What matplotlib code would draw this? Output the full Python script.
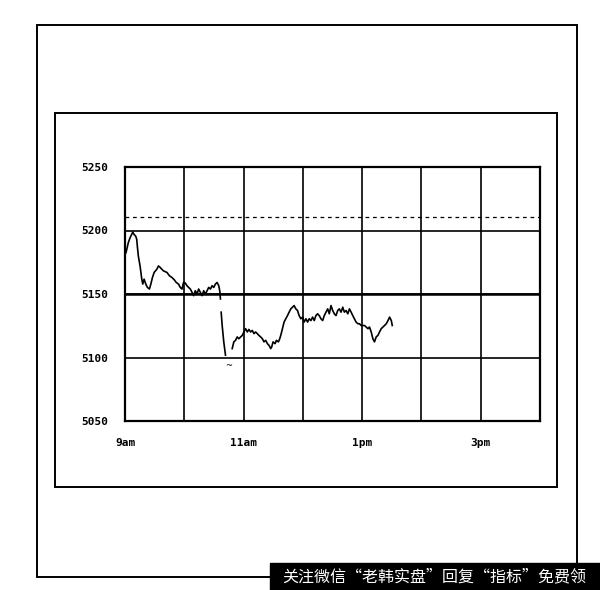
import matplotlib
matplotlib.use("Agg")
import matplotlib.pyplot as plt
from matplotlib.patches import Rectangle

# time in hours (9 = 9am), price
t_am = [9.017, 9.056, 9.085, 9.131, 9.153, 9.181, 9.198, 9.208, 9.225, 9.254,
        9.283, 9.300, 9.322, 9.351, 9.378, 9.412, 9.436, 9.463, 9.492, 9.537,
        9.564, 9.593, 9.622, 9.649, 9.707, 9.751, 9.792, 9.831, 9.864, 9.903,
        9.932, 9.961, 9.988, 10.017, 10.046, 10.073, 10.102, 10.131, 10.158, 10.186,
        10.215, 10.242, 10.271, 10.300, 10.327, 10.356, 10.385, 10.412, 10.441, 10.469,
        10.497, 10.525, 10.554, 10.581, 10.598, 10.610]
p_am = [5182.6, 5190.4, 5194.3, 5198.7, 5196.9, 5195.5, 5193.0, 5187.7, 5179.9, 5172.1,
        5161.7, 5157.8, 5161.7, 5157.8, 5155.2, 5153.9, 5157.8, 5163.0, 5167.0, 5169.5,
        5172.1, 5170.9, 5169.5, 5168.2, 5167.0, 5164.3, 5163.0, 5161.2, 5159.1, 5157.8,
        5155.2, 5153.9, 5159.1, 5158.6, 5156.5, 5155.2, 5153.9, 5151.3, 5148.7, 5152.6,
        5150.0, 5153.9, 5151.3, 5148.7, 5152.6, 5150.0, 5152.6, 5155.2, 5153.9, 5156.5,
        5155.2, 5157.8, 5159.1, 5156.5, 5152.6, 5146.1]

t_drop = [10.622, 10.639, 10.666, 10.695]
p_drop = [5135.7, 5125.2, 5112.3, 5101.8]

t_pm = [10.808, 10.836, 10.864, 10.893, 10.920, 10.978, 11.005, 11.034, 11.063, 11.090,
        11.119, 11.147, 11.175, 11.203, 11.232, 11.259, 11.288, 11.317, 11.344, 11.373,
        11.402, 11.429, 11.458, 11.475, 11.497, 11.531, 11.554, 11.588, 11.610, 11.627,
        11.656, 11.683, 11.712, 11.741, 11.768, 11.797, 11.825, 11.853, 11.881, 11.910,
        11.937, 11.966, 11.995, 12.022, 12.051, 12.080, 12.107, 12.136, 12.164, 12.192,
        12.220, 12.249, 12.276, 12.305, 12.334, 12.361, 12.390, 12.419, 12.446, 12.475,
        12.503, 12.531, 12.559, 12.588, 12.615, 12.644, 12.673, 12.700, 12.729, 12.758,
        12.785, 12.814, 12.842, 12.869, 12.898, 12.927, 12.954, 12.983, 13.012, 13.039,
        13.068, 13.097, 13.124, 13.153, 13.181, 13.208, 13.237, 13.266, 13.293, 13.322,
        13.351, 13.378, 13.407, 13.436, 13.463, 13.492, 13.508]
p_pm = [5107.0, 5112.3, 5113.5, 5116.2, 5114.8, 5117.4, 5120.1, 5122.7, 5120.1, 5122.1,
        5120.1, 5121.3, 5118.8, 5120.1, 5118.8, 5117.4, 5116.2, 5114.8, 5112.3, 5113.5,
        5110.9, 5109.6, 5107.0, 5108.4, 5112.3, 5110.9, 5113.5, 5112.3, 5114.8, 5117.4,
        5122.7, 5127.9, 5130.5, 5133.0, 5135.7, 5138.3, 5139.6, 5140.9, 5138.3, 5137.0,
        5133.0, 5130.5, 5131.8, 5127.9, 5130.5, 5127.9, 5130.5, 5129.1, 5131.8, 5129.1,
        5133.0, 5134.4, 5133.0, 5130.5, 5129.1, 5133.0, 5135.7, 5138.3, 5134.4, 5140.9,
        5137.0, 5134.4, 5133.0, 5137.0, 5138.3, 5135.7, 5139.6, 5135.7, 5137.0, 5134.4,
        5138.3, 5135.7, 5133.0, 5130.5, 5127.9, 5126.6, 5126.6, 5125.2, 5125.2, 5125.2,
        5124.0, 5122.7, 5124.0, 5120.1, 5114.8, 5112.3, 5116.2, 5117.4, 5120.1, 5122.7,
        5124.0, 5125.2, 5126.6, 5129.1, 5131.8, 5129.1, 5125.2]

ref_level = 5211
hours = [9, 10, 11, 12, 13, 14, 15, 16]
hour_labels = ['9am', '', '11am', '', '1pm', '', '3pm', '']
price_ticks = [5050, 5100, 5150, 5200, 5250]

fig = plt.figure(figsize=(6, 5.9), dpi=100)

# outer and inner frames
fig.add_artist(Rectangle((37 / 600, 1 - 577 / 590), 540 / 600, 552 / 590,
                         transform=fig.transFigure, fill=False, lw=1.4, color='black'))
fig.add_artist(Rectangle((55 / 600, 1 - 487 / 590), 502 / 600, 374 / 590,
                         transform=fig.transFigure, fill=False, lw=1.4, color='black'))

ax = fig.add_axes([125 / 600, 1 - 421 / 590, 415 / 600, 254 / 590])
ax.plot(t_am, p_am, color='black', lw=1.2)
ax.plot(t_drop, p_drop, color='black', lw=1.2)
ax.plot(t_pm, p_pm, color='black', lw=1.2)
ax.text(10.75, 5094, '~', fontsize=6, ha='center', va='center')
ax.axhline(ref_level, color='black', lw=0.9, ls=(0, (3, 3)))

ax.set_xlim(9, 16)
ax.set_ylim(5050, 5250)
ax.set_xticks(hours)
ax.set_xticklabels(hour_labels, family='DejaVu Sans Mono', fontsize=8, fontweight='bold')
ax.set_yticks(price_ticks)
ax.set_yticklabels([str(v) for v in price_ticks], family='DejaVu Sans Mono',
                   fontsize=8, fontweight='bold')
ax.tick_params(length=0, pad=12)
ax.grid(True, color='black', lw=1.2)
ax.axhline(5150, color='black', lw=1.8)
for s in ax.spines.values():
    s.set_linewidth(1.6)

# watermark strip
fig.add_artist(Rectangle((270 / 600, 0), 330 / 600, 27 / 590,
                         transform=fig.transFigure, color='black'))
fig.text(434 / 600, 13 / 590, '关注微信“老韩实盘”回复“指标”免费领', color='white',
         fontsize=11.5, ha='center', va='center',
         family=['Noto Sans CJK SC', 'DejaVu Sans'])

fig.savefig('out.png', dpi=100)
